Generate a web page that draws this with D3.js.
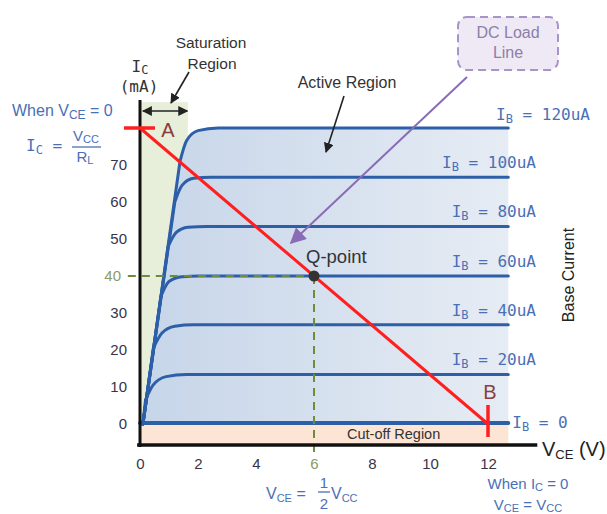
<!DOCTYPE html>
<html>
<head>
<meta charset="utf-8">
<script src="https://cdn.jsdelivr.net/npm/d3@7"></script>
<style>
  body { margin: 0; background: #fff; }
  svg { display: block; font-family: "Liberation Sans", Arial, sans-serif; }
</style>
</head>
<body>
<svg id="chart" width="607" height="514"></svg>
<script>
// ---- Transistor output characteristics (VCE in volts, IC in mA) ----
const xTicks = [0, 2, 4, 6, 8, 10, 12];
const yTicks = [0, 10, 20, 30, 40, 50, 60, 70];

// Base current of each characteristic curve
const baseCurrents = ["0", "20uA", "40uA", "60uA", "80uA", "100uA", "120uA"];
// Flat (active region) collector current for each curve
const curveLevels = [0.3, 13.4, 26.8, 40, 53.4, 66.7, 80];
// Where each curve leaves the common saturation line
const departPoints = [null, [0.19, 6.5], [0.46, 20.5], [0.72, 34.5], [0.97, 48], [1.2, 60], [1.38, 71]];
// Points through each knee up to the start of the flat part
const kneePoints = [
  null,
  [[0.45, 10.5], [0.9, 12.8], [1.6, 13.4]],
  [[0.75, 24.5], [1.2, 26.4], [1.85, 26.8]],
  [[1.0, 38.5], [1.45, 39.8], [2.05, 40]],
  [[1.25, 51.8], [1.65, 53.2], [2.3, 53.4]],
  [[1.45, 64.5], [1.85, 66.4], [2.45, 66.7]],
  [[1.6, 76.5], [2.0, 79.3], [2.7, 80]]
];
const curveOrigin = [0.1, 0];
const curveEndV = 12.7;

// DC load line from IC = VCC/RL (A) to VCE = VCC (B), with the Q-point
const loadLine = [[0, 80], [12, 0]];
const qPoint = [6, 40];

// Operating regions (VCE range, IC range)
const saturationRegion = { v: [0.03, 1.65], ic: [-0.3, 87] };
const cutoffRegion = { v: [0.03, 12.7], ic: [-5.2, -0.3] };
const activeRegionBottom = -0.3;

// Axis line extents
const xAxisExtent = [-0.1, 13.7];
const yAxisExtent = [-6.2, 87.6];
const xAxisLevel = -5.7;

const svg = d3.select("#chart");
const x = d3.scaleLinear().domain([0, 12]).range([140, 488]);
const y = d3.scaleLinear().domain([0, 80]).range([424, 128]);

const blue = "#2c5fa8";
const labelBlue = "#4a70b6";
const red = "#ff1f1f";
const olive = "#6f8c3c";

// gradient for the active region fill and arrow markers
const defs = svg.append("defs");
const grad = defs.append("linearGradient").attr("id", "activeFill")
  .attr("gradientUnits", "userSpaceOnUse")
  .attr("x1", x(0)).attr("x2", x(curveEndV)).attr("y1", 0).attr("y2", 0);
grad.append("stop").attr("offset", 0).attr("stop-color", "#c6d5e9");
grad.append("stop").attr("offset", 1).attr("stop-color", "#e6ecf4");

function arrowMarker(id, color, size) {
  defs.append("marker").attr("id", id)
    .attr("viewBox", "0 0 10 10").attr("refX", 9).attr("refY", 5)
    .attr("markerWidth", size).attr("markerHeight", size)
    .attr("markerUnits", "userSpaceOnUse")
    .attr("orient", "auto-start-reverse")
    .append("path").attr("d", "M0,0 L10,5 L0,10 Z").attr("fill", color);
}
arrowMarker("arrowBlack", "#222", 10);
arrowMarker("arrowPurple", "#8a6cb6", 16);

// ---- regions ----
svg.append("rect")
  .attr("x", x(saturationRegion.v[0])).attr("y", y(saturationRegion.ic[1]))
  .attr("width", x(saturationRegion.v[1]) - x(saturationRegion.v[0]))
  .attr("height", y(saturationRegion.ic[0]) - y(saturationRegion.ic[1]))
  .attr("fill", "#e7efdb");

svg.append("rect")
  .attr("x", x(cutoffRegion.v[0])).attr("y", y(cutoffRegion.ic[1]))
  .attr("width", x(cutoffRegion.v[1]) - x(cutoffRegion.v[0]))
  .attr("height", y(cutoffRegion.ic[0]) - y(cutoffRegion.ic[1]))
  .attr("fill", "#fce5d5");

// curve path pieces: straight saturation segment, then a smooth knee
const straight = d3.line().x(d => x(d[0])).y(d => y(d[1]));
const smooth = d3.line().x(d => x(d[0])).y(d => y(d[1])).curve(d3.curveMonotoneX);

function curvePath(i) {
  const lvl = curveLevels[i];
  if (!departPoints[i]) return { first: "", rest: straight([[0, lvl], [curveEndV, lvl]]) };
  const first = straight([curveOrigin, departPoints[i]]);
  const rest = smooth([departPoints[i], ...kneePoints[i], [curveEndV, lvl]]);
  return { first, rest };
}

// active region fill under the top curve
const topCurve = curvePath(curveLevels.length - 1);
const fillPath = topCurve.first + topCurve.rest.replace(/^M/, "L") +
  "L" + x(curveEndV) + "," + y(activeRegionBottom) +
  "L" + x(curveOrigin[0]) + "," + y(activeRegionBottom) + "Z";
svg.append("path").attr("d", fillPath).attr("fill", "url(#activeFill)");

// characteristic curves
curveLevels.forEach((lvl, i) => {
  const p = curvePath(i);
  svg.append("path").attr("d", p.first + p.rest)
    .attr("fill", "none").attr("stroke", blue)
    .attr("stroke-width", i === 0 ? 4 : 3)
    .attr("stroke-linecap", "round").attr("stroke-linejoin", "round");
});

// Q-point guide lines
svg.append("line")
  .attr("x1", x(-0.42)).attr("x2", x(qPoint[0]))
  .attr("y1", y(qPoint[1])).attr("y2", y(qPoint[1]))
  .attr("stroke", olive).attr("stroke-width", 2).attr("stroke-dasharray", "8,6");
svg.append("line")
  .attr("x1", x(qPoint[0])).attr("x2", x(qPoint[0]))
  .attr("y1", y(qPoint[1])).attr("y2", y(-7.9))
  .attr("stroke", olive).attr("stroke-width", 2).attr("stroke-dasharray", "8,6");

// axes lines
svg.append("line")
  .attr("x1", x(0)).attr("x2", x(0))
  .attr("y1", y(yAxisExtent[1])).attr("y2", y(yAxisExtent[0]))
  .attr("stroke", "#111").attr("stroke-width", 3);
svg.append("line")
  .attr("x1", x(xAxisExtent[0])).attr("x2", x(xAxisExtent[1]))
  .attr("y1", y(xAxisLevel)).attr("y2", y(xAxisLevel))
  .attr("stroke", "#111").attr("stroke-width", 3.5);

// load line and its end markers
svg.append("line")
  .attr("x1", x(loadLine[0][0])).attr("y1", y(loadLine[0][1]))
  .attr("x2", x(loadLine[1][0])).attr("y2", y(loadLine[1][1]))
  .attr("stroke", red).attr("stroke-width", 3);
svg.append("line")
  .attr("x1", x(loadLine[0][0]) - 16).attr("x2", x(loadLine[0][0]) + 15)
  .attr("y1", y(loadLine[0][1])).attr("y2", y(loadLine[0][1]))
  .attr("stroke", red).attr("stroke-width", 3.5);
svg.append("line")
  .attr("x1", x(loadLine[1][0])).attr("x2", x(loadLine[1][0]))
  .attr("y1", y(loadLine[1][1]) - 19).attr("y2", y(loadLine[1][1]) + 13)
  .attr("stroke", red).attr("stroke-width", 3.5);

svg.append("circle")
  .attr("cx", x(qPoint[0])).attr("cy", y(qPoint[1])).attr("r", 5.5)
  .attr("fill", "#333");

// ---- tick labels ----
const yAxis = d3.axisLeft(y).tickValues(yTicks).tickSize(0).tickPadding(13);
const gy = svg.append("g").attr("transform", `translate(${x(0)},0)`).call(yAxis);
gy.select(".domain").remove();
gy.selectAll("text")
  .attr("font-family", "Liberation Sans, Arial, sans-serif")
  .attr("font-size", 15).attr("fill", "#38344a")
  .filter(d => d === qPoint[1]).attr("fill", "#8c9a66").attr("dx", -6);

const xAxis = d3.axisBottom(x).tickValues(xTicks).tickSize(0).tickPadding(13);
const gx = svg.append("g").attr("transform", `translate(0,${y(xAxisLevel)})`).call(xAxis);
gx.select(".domain").remove();
gx.selectAll("text")
  .attr("font-family", "Liberation Sans, Arial, sans-serif")
  .attr("font-size", 15).attr("fill", "#38344a")
  .filter(d => d === qPoint[0]).attr("fill", "#8c9a66");

// ---- curve labels ----
const mono = "DejaVu Sans Mono, monospace";
baseCurrents.forEach((ib, i) => {
  const t = svg.append("text")
    .attr("font-family", mono).attr("font-size", 16).attr("fill", labelBlue);
  if (i === 0) {
    t.attr("x", x(curveEndV) + 4).attr("y", y(curveLevels[i]) + 5);
  } else if (i === baseCurrents.length - 1) {
    t.attr("x", 590).attr("y", y(curveLevels[i]) - 8).attr("text-anchor", "end");
  } else {
    t.attr("x", 536).attr("y", y(curveLevels[i]) - 9).attr("text-anchor", "end");
  }
  t.append("tspan").text("I");
  t.append("tspan").attr("font-size", 12).attr("dy", 3).text("B");
  t.append("tspan").attr("dy", -3).text(" = " + ib);
});

svg.append("text").attr("transform", "translate(574,275) rotate(-90)")
  .attr("text-anchor", "middle").attr("font-size", 16).attr("fill", "#222")
  .text("Base Current");

// ---- axis titles ----
const icLabel = svg.append("text").attr("x", 140).attr("y", 72)
  .attr("text-anchor", "middle").attr("font-family", mono).attr("font-size", 16).attr("fill", "#333");
icLabel.append("tspan").text("I");
icLabel.append("tspan").attr("font-size", 12).attr("dy", 2).text("C");
svg.append("text").attr("x", 139).attr("y", 92).attr("text-anchor", "middle")
  .attr("font-family", mono).attr("font-size", 16).attr("fill", "#333").text("(mA)");

const vceLabel = svg.append("text").attr("x", 542).attr("y", 456)
  .attr("font-size", 20).attr("fill", "#222");
vceLabel.append("tspan").text("V");
vceLabel.append("tspan").attr("font-size", 13).attr("dy", 3).text("CE");
vceLabel.append("tspan").attr("dy", -3).text(" (V)");

// ---- region annotations ----
svg.append("text").attr("x", 211).attr("y", 48).attr("text-anchor", "middle")
  .attr("font-size", 15.5).attr("fill", "#333").text("Saturation");
svg.append("text").attr("x", 212).attr("y", 69).attr("text-anchor", "middle")
  .attr("font-size", 15.5).attr("fill", "#333").text("Region");
svg.append("line").attr("x1", 189).attr("y1", 72).attr("x2", 171).attr("y2", 103)
  .attr("stroke", "#222").attr("stroke-width", 1.6).attr("marker-end", "url(#arrowBlack)");
svg.append("line").attr("x1", x(0.1)).attr("x2", x(1.63))
  .attr("y1", 111).attr("y2", 111)
  .attr("stroke", "#222").attr("stroke-width", 1.6)
  .attr("marker-start", "url(#arrowBlack)").attr("marker-end", "url(#arrowBlack)");

svg.append("text").attr("x", 347).attr("y", 88).attr("text-anchor", "middle")
  .attr("font-size", 16).attr("fill", "#333").text("Active Region");
svg.append("line").attr("x1", 344).attr("y1", 96).attr("x2", 326).attr("y2", 152)
  .attr("stroke", "#222").attr("stroke-width", 1.6).attr("marker-end", "url(#arrowBlack)");

svg.append("text").attr("x", 347).attr("y", 439)
  .attr("font-size", 14.5).attr("fill", "#333").text("Cut-off Region");

svg.append("text").attr("x", 306).attr("y", 263)
  .attr("font-size", 18.5).attr("fill", "#333").text("Q-point");

svg.append("text").attr("x", 168).attr("y", 137).attr("text-anchor", "middle")
  .attr("font-size", 20).attr("fill", "#8b3a3a").text("A");
svg.append("text").attr("x", 490).attr("y", 399).attr("text-anchor", "middle")
  .attr("font-size", 20).attr("fill", "#8b4040").text("B");

// ---- DC load line callout ----
svg.append("rect").attr("x", 458).attr("y", 17).attr("width", 100).attr("height", 53)
  .attr("rx", 9).attr("fill", "#efe9f5")
  .attr("stroke", "#a894c6").attr("stroke-width", 2).attr("stroke-dasharray", "8,5");
svg.append("text").attr("x", 508).attr("y", 38).attr("text-anchor", "middle")
  .attr("font-size", 16).attr("fill", "#8a80a8").text("DC Load");
svg.append("text").attr("x", 508).attr("y", 58).attr("text-anchor", "middle")
  .attr("font-size", 16).attr("fill", "#8a80a8").text("Line");
svg.append("line").attr("x1", 467).attr("y1", 77).attr("x2", 291).attr("y2", 243)
  .attr("stroke", "#8a6cb6").attr("stroke-width", 2).attr("marker-end", "url(#arrowPurple)");

// ---- formula notes ----
const when1 = svg.append("text").attr("x", 12).attr("y", 116)
  .attr("font-size", 16).attr("fill", labelBlue);
when1.append("tspan").text("When V");
when1.append("tspan").attr("font-size", 12).attr("dy", 3).text("CE");
when1.append("tspan").attr("dy", -3).text(" = 0");

const icEq = svg.append("text").attr("x", 26).attr("y", 151)
  .attr("font-family", mono).attr("font-size", 16).attr("fill", labelBlue);
icEq.append("tspan").text("I");
icEq.append("tspan").attr("font-size", 12).attr("dy", 3).text("C");
icEq.append("tspan").attr("dy", -3).text(" =");

const num = svg.append("text").attr("x", 86).attr("y", 141).attr("text-anchor", "middle")
  .attr("font-size", 15).attr("fill", labelBlue);
num.append("tspan").text("V");
num.append("tspan").attr("font-size", 11).attr("dy", 2).text("CC");
svg.append("line").attr("x1", 72).attr("x2", 101).attr("y1", 147).attr("y2", 147)
  .attr("stroke", labelBlue).attr("stroke-width", 1.3);
const den = svg.append("text").attr("x", 85).attr("y", 162).attr("text-anchor", "middle")
  .attr("font-size", 15).attr("fill", labelBlue);
den.append("tspan").text("R");
den.append("tspan").attr("font-size", 11).attr("dy", 2).text("L");

const vceEq = svg.append("text").attr("x", 266).attr("y", 499)
  .attr("font-size", 16).attr("fill", labelBlue);
vceEq.append("tspan").text("V");
vceEq.append("tspan").attr("font-size", 11).attr("dy", 3).text("CE");
vceEq.append("tspan").attr("dy", -3).text(" = ");
svg.append("text").attr("x", 324).attr("y", 488).attr("text-anchor", "middle")
  .attr("font-size", 15).attr("fill", labelBlue).text("1");
svg.append("line").attr("x1", 318).attr("x2", 330).attr("y1", 492).attr("y2", 492)
  .attr("stroke", labelBlue).attr("stroke-width", 1.3);
svg.append("text").attr("x", 324).attr("y", 509).attr("text-anchor", "middle")
  .attr("font-size", 15).attr("fill", labelBlue).text("2");
const vcc = svg.append("text").attr("x", 331).attr("y", 499)
  .attr("font-size", 16).attr("fill", labelBlue);
vcc.append("tspan").text("V");
vcc.append("tspan").attr("font-size", 11).attr("dy", 3).text("CC");

const when2 = svg.append("text").attr("x", 528).attr("y", 489).attr("text-anchor", "middle")
  .attr("font-size", 15).attr("fill", labelBlue);
when2.append("tspan").text("When I");
when2.append("tspan").attr("font-size", 11).attr("dy", 2).text("C");
when2.append("tspan").attr("dy", -2).text(" = 0");

const vceVcc = svg.append("text").attr("x", 528).attr("y", 510).attr("text-anchor", "middle")
  .attr("font-size", 15).attr("fill", labelBlue);
vceVcc.append("tspan").text("V");
vceVcc.append("tspan").attr("font-size", 11).attr("dy", 2).text("CE");
vceVcc.append("tspan").attr("dy", -2).text(" = V");
vceVcc.append("tspan").attr("font-size", 11).attr("dy", 2).text("CC");
</script>
</body>
</html>
